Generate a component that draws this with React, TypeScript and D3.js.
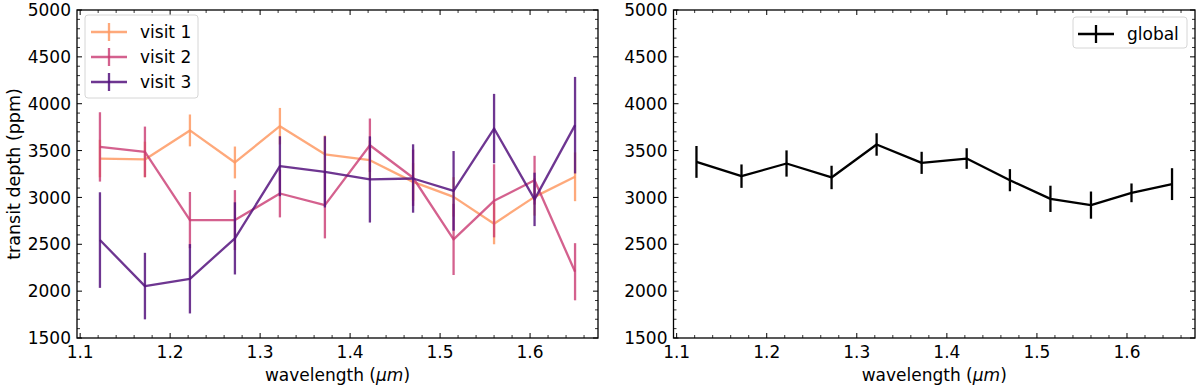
import React from "react";
import * as d3 from "d3";

const wavelengths = [1.122, 1.172, 1.222, 1.272, 1.322, 1.372, 1.422, 1.470, 1.515, 1.560, 1.605, 1.650];

const visit1 = [3415, 3405, 3715, 3373, 3760, 3460, 3397, 3166, 3006, 2720, 3006, 3220];
const visit1Err = [200, 190, 170, 170, 195, 200, 210, 200, 210, 220, 200, 260];
const visit2 = [3539, 3486, 2758, 2758, 3042, 2918, 3557, 3210, 2552, 2964, 3184, 2207];
const visit2Err = [370, 270, 300, 320, 255, 355, 285, 300, 380, 390, 260, 305];
const visit3 = [2545, 2054, 2132, 2563, 3333, 3273, 3192, 3202, 3070, 3735, 2979, 3771];
const visit3Err = [510, 355, 370, 385, 320, 380, 460, 365, 425, 370, 285, 515];

const globalDepth = [3379, 3227, 3362, 3213, 3565, 3369, 3415, 3184, 2985, 2918, 3049, 3142];
const globalErr = [170, 125, 140, 125, 120, 118, 110, 118, 140, 145, 100, 170];

const xTicks = [1.1, 1.2, 1.3, 1.4, 1.5, 1.6];
const yTicks = [1500, 2000, 2500, 3000, 3500, 4000, 4500, 5000];

const FONT = "DejaVu Sans, sans-serif";

type Series = { name: string; values: number[]; errs: number[]; color: string; opacity: number };

const leftSeries: Series[] = [
  { name: "visit 1", values: visit1, errs: visit1Err, color: "#fe9a64", opacity: 0.85 },
  { name: "visit 2", values: visit2, errs: visit2Err, color: "#c93a72", opacity: 0.8 },
  { name: "visit 3", values: visit3, errs: visit3Err, color: "#55137e", opacity: 0.85 },
];
const rightSeries: Series[] = [
  { name: "global", values: globalDepth, errs: globalErr, color: "#000000", opacity: 1 },
];

function Panel({ x0, x1, series, yLabel, legendBox }: { x0: number; x1: number; series: Series[]; yLabel: boolean; legendBox: { x: number; y: number; w: number; h: number; handleX: number } }) {
  const top = 10;
  const bottom = 338;
  const x = d3.scaleLinear().domain([1.0965, 1.6755]).range([x0, x1]);
  const y = d3.scaleLinear().domain([1500, 5000]).range([bottom, top]);
  const line = d3.line<number>().x((_, i) => x(wavelengths[i])).y((v) => y(v));
  const xMinor = d3.range(1.1, 1.6755, 0.02).filter((v) => Math.abs(Math.round(v * 10) - v * 10) > 0.01);
  const yMinor = d3.range(1500, 5001, 100).filter((v) => v % 500 !== 0);
  return (
    <g>
      {series.map((s) => (
        <g key={s.name} strokeOpacity={s.opacity}>
          {s.values.map((v, i) => (
            <line key={i} x1={x(wavelengths[i])} x2={x(wavelengths[i])} y1={y(v - s.errs[i])} y2={y(v + s.errs[i])} stroke={s.color} strokeWidth={2.3} />
          ))}
          <path d={line(s.values) || ""} fill="none" stroke={s.color} strokeWidth={2.3} strokeLinejoin="round" />
        </g>
      ))}
      {xTicks.map((t) => (
        <g key={t}>
          <line x1={x(t)} x2={x(t)} y1={bottom} y2={bottom - 5} stroke="#000" strokeWidth={1} />
          <line x1={x(t)} x2={x(t)} y1={top} y2={top + 5} stroke="#000" strokeWidth={1} />
          <text x={x(t)} y={358} textAnchor="middle" fontSize={17} fontFamily={FONT}>{t.toFixed(1)}</text>
        </g>
      ))}
      {xMinor.map((t, i) => (
        <g key={"m" + i}>
          <line x1={x(t)} x2={x(t)} y1={bottom} y2={bottom - 3} stroke="#000" strokeWidth={0.8} />
          <line x1={x(t)} x2={x(t)} y1={top} y2={top + 3} stroke="#000" strokeWidth={0.8} />
        </g>
      ))}
      {yTicks.map((t) => (
        <g key={t}>
          <line x1={x0} x2={x0 + 5} y1={y(t)} y2={y(t)} stroke="#000" strokeWidth={1} />
          <line x1={x1} x2={x1 - 5} y1={y(t)} y2={y(t)} stroke="#000" strokeWidth={1} />
          <text x={x0 - 6} y={y(t)} dy="0.36em" textAnchor="end" fontSize={17} fontFamily={FONT}>{t}</text>
        </g>
      ))}
      {yMinor.map((t) => (
        <g key={"ym" + t}>
          <line x1={x0} x2={x0 + 3} y1={y(t)} y2={y(t)} stroke="#000" strokeWidth={0.8} />
          <line x1={x1} x2={x1 - 3} y1={y(t)} y2={y(t)} stroke="#000" strokeWidth={0.8} />
        </g>
      ))}
      <rect x={x0} y={top} width={x1 - x0} height={bottom - top} fill="none" stroke="#000" strokeWidth={1.3} />
      <text x={(x0 + x1) / 2} y={381} textAnchor="middle" fontSize={17} fontFamily={FONT}>
        wavelength (<tspan fontStyle="italic">μm</tspan>)
      </text>
      {yLabel && (
        <text transform={`translate(20,${(top + bottom) / 2}) rotate(-90)`} textAnchor="middle" fontSize={17.5} fontFamily={FONT}>
          transit depth (ppm)
        </text>
      )}
      <rect x={legendBox.x} y={legendBox.y} width={legendBox.w} height={legendBox.h} rx={3} fill="#fff" fillOpacity={0.8} stroke="#d6d6d6" strokeWidth={1} />
      {series.map((s, i) => {
        const cy = legendBox.y + 17 + i * 25;
        const hx = legendBox.handleX;
        return (
          <g key={"lg" + s.name} strokeOpacity={s.opacity}>
            <line x1={hx} x2={hx + 36} y1={cy} y2={cy} stroke={s.color} strokeWidth={2.3} />
            <line x1={hx + 18} x2={hx + 18} y1={cy - 9} y2={cy + 9} stroke={s.color} strokeWidth={2.3} />
            <text x={hx + 49} y={cy} dy="0.36em" fontSize={17} fontFamily={FONT} fill="#000">{s.name}</text>
          </g>
        );
      })}
    </g>
  );
}

export default function App() {
  return (
    <svg width={1200} height={388} style={{ position: "absolute", left: 0, top: 0, background: "#fff" }}>
      <rect width={1200} height={388} fill="#fff" />
      <Panel x0={77} x1={598} series={leftSeries} yLabel={true} legendBox={{ x: 85, y: 15, w: 113, h: 83, handleX: 91 }} />
      <Panel x0={673.5} x1={1195} series={rightSeries} yLabel={false} legendBox={{ x: 1073, y: 17, w: 114, h: 31, handleX: 1078 }} />
    </svg>
  );
}
